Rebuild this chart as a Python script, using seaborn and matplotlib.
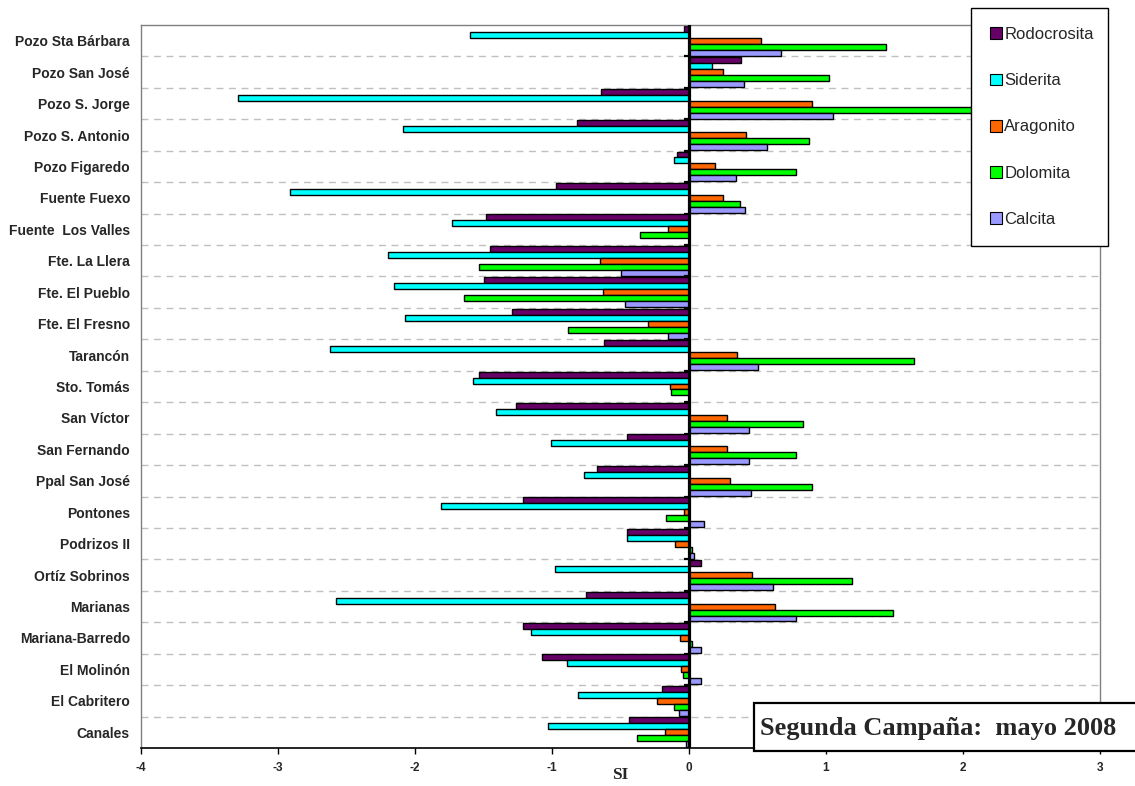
import numpy as np
import pandas as pd
import matplotlib
matplotlib.use("Agg")
import matplotlib.pyplot as plt
from matplotlib.patches import Patch, Rectangle
import seaborn as sns

# Saturation indices (SI) per sampling site, second campaign
sitios = [
    "Pozo Sta Bárbara", "Pozo San José", "Pozo S. Jorge", "Pozo S. Antonio",
    "Pozo Figaredo", "Fuente Fuexo", "Fuente  Los Valles", "Fte. La Llera",
    "Fte. El Pueblo", "Fte. El Fresno", "Tarancón", "Sto. Tomás", "San Víctor",
    "San Fernando", "Ppal San José", "Pontones", "Podrizos II", "Ortíz Sobrinos",
    "Marianas", "Mariana-Barredo", "El Molinón", "El Cabritero", "Canales",
]
rodocrosita = [-0.04, 0.38, -0.64, -0.82, -0.085, -0.97, -1.48, -1.45, -1.50, -1.29,
               -0.62, -1.53, -1.26, -0.45, -0.67, -1.21, -0.45, 0.09, -0.75, -1.21,
               -1.07, -0.20, -0.44]
siderita = [-1.60, 0.17, -3.29, -2.09, -0.11, -2.91, -1.73, -2.20, -2.15, -2.07,
            -2.62, -1.58, -1.41, -1.01, -0.77, -1.81, -0.45, -0.98, -2.58, -1.15,
            -0.89, -0.81, -1.03]
aragonito = [0.525, 0.25, 0.90, 0.415, 0.19, 0.25, -0.15, -0.65, -0.63, -0.30,
             0.35, -0.14, 0.28, 0.28, 0.30, -0.04, -0.10, 0.46, 0.63, -0.065,
             -0.06, -0.23, -0.175]
dolomita = [1.44, 1.02, 2.20, 0.875, 0.78, 0.37, -0.36, -1.53, -1.64, -0.88,
            1.64, -0.13, 0.83, 0.78, 0.90, -0.17, 0.02, 1.19, 1.49, 0.02,
            -0.045, -0.11, -0.38]
calcita = [0.67, 0.40, 1.05, 0.57, 0.34, 0.41, 0.0, -0.50, -0.47, -0.15,
           0.50, 0.0, 0.44, 0.435, 0.45, 0.11, 0.04, 0.61, 0.78, 0.085,
           0.09, -0.075, -0.025]

minerales = ["Rodocrosita", "Siderita", "Aragonito", "Dolomita", "Calcita"]
colores = ["#660066", "#00FFFF", "#FF6600", "#00FF00", "#9999FF"]
x_ticks = [-4, -3, -2, -1, 0, 1, 2, 3]

series = [rodocrosita, siderita, aragonito, dolomita, calcita]
df = pd.concat(
    [pd.DataFrame({"Sitio": sitios, "SI": vals, "Mineral": m})
     for m, vals in zip(minerales, series)],
    ignore_index=True,
)

sns.set_theme(style="white")
plt.rcParams["font.family"] = ["Liberation Sans", "DejaVu Sans"]

W, H = 1135, 786
fig = plt.figure(figsize=(W / 100, H / 100), dpi=100)
ax = fig.add_axes([141 / W, 1 - 748 / H, (1100 - 141) / W, (748 - 25) / H])

sns.barplot(
    data=df, x="SI", y="Sitio", hue="Mineral", order=sitios, hue_order=minerales,
    orient="h", palette=colores, saturation=1, width=0.95,
    edgecolor="black", linewidth=1.0, legend=False, ax=ax,
)

n = len(sitios)
ax.set_xlim(x_ticks[0], x_ticks[-1])
ax.set_ylim(n - 0.5, -0.5)
ax.set_xticks(x_ticks)
ax.set_xticklabels([str(t) for t in x_ticks])

# dashed separators between sites
ax.set_yticks(np.arange(0.5, n - 1, 1), minor=True)
ax.grid(False)
ax.grid(axis="y", which="minor", color="#c0c0c0", linestyle=(0, (5, 4)), lw=1.0)
ax.set_axisbelow(True)

# category axis crossing at SI = 0
ax.axvline(0, color="black", lw=2.3, zorder=6)
ax.hlines(np.arange(0.5, n - 1, 1), -0.035, 0, color="black", lw=1.6, zorder=6)

ax.tick_params(axis="y", which="both", length=0, pad=8, labelsize=10)
ax.tick_params(axis="x", which="major", length=4, width=1, color="black",
               direction="out", pad=6, labelsize=8.5, bottom=True)
for lab in ax.get_yticklabels() + ax.get_xticklabels():
    lab.set_fontweight("bold")

for side in ("left", "top", "right"):
    ax.spines[side].set_color("#808080")
    ax.spines[side].set_linewidth(1.0)
ax.spines["bottom"].set_color("black")
ax.spines["bottom"].set_linewidth(1.2)

ax.set_ylabel("")
ax.set_xlabel("SI", fontfamily="Liberation Serif", fontweight="bold", fontsize=12.5)
ax.xaxis.set_label_coords(0.5, -0.026)

handles = [Patch(facecolor=c, edgecolor="black", linewidth=0.8, label=m)
           for m, c in zip(minerales, colores)]
leg = ax.legend(
    handles=handles, loc="upper left",
    bbox_to_anchor=(971 / W, 1 - 8 / H, 137 / W, 0.0),
    bbox_transform=fig.transFigure, mode="expand", borderaxespad=0,
    fontsize=12, labelspacing=1.87, handlelength=0.7, handleheight=0.7,
    handletextpad=0.15, borderpad=1.15, fancybox=False, framealpha=1,
    edgecolor="black",
)
leg.get_frame().set_linewidth(1.0)

# campaign caption box
fig.add_artist(Rectangle((754 / W, 1 - 751 / H), (1140 - 754) / W, 48 / H,
                         transform=fig.transFigure, facecolor="white",
                         edgecolor="black", lw=1.6, zorder=10, clip_on=False))
fig.text(760 / W, 1 - 729 / H, "Segunda Campaña:  mayo 2008",
         fontfamily="Liberation Serif", fontweight="bold", fontsize=19,
         ha="left", va="center", zorder=11)

fig.savefig("out.png", dpi=100)
